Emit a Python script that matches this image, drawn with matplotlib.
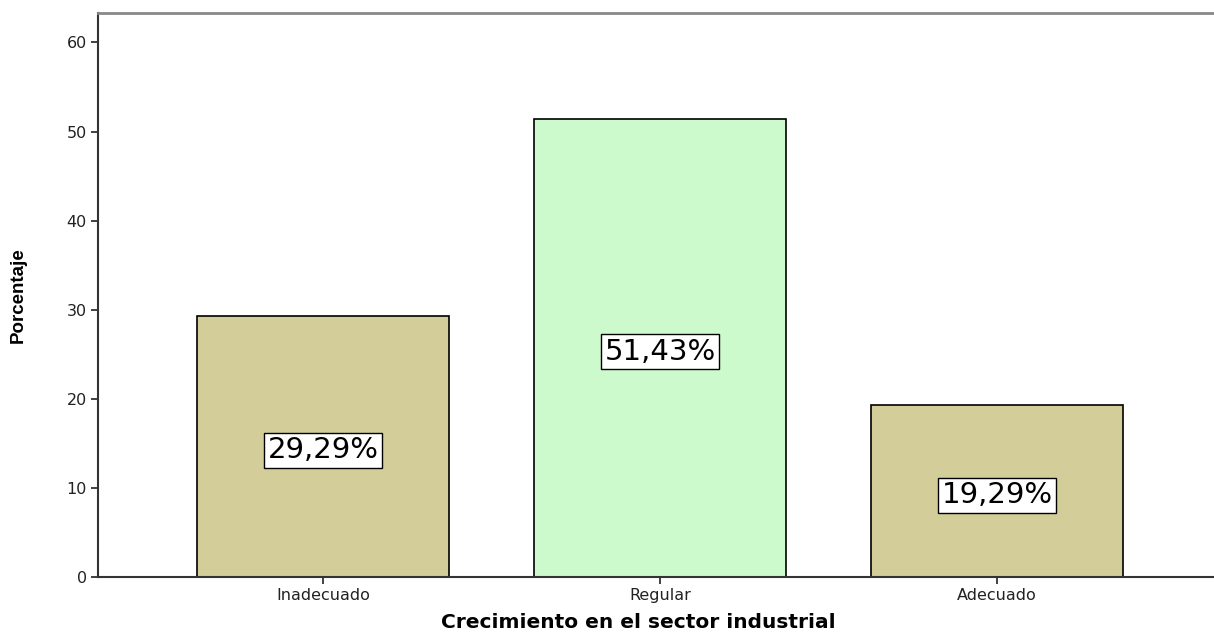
"""
Crecimiento en el sector industrial: porcentaje por nivel.
"""

import matplotlib
matplotlib.use("Agg")
import matplotlib.pyplot as plt

categorias = ["Inadecuado", "Regular", "Adecuado"]
porcentajes = [29.29, 51.43, 19.29]
etiquetas = ["29,29%", "51,43%", "19,29%"]
colores = ["#d3cd99", "#ccfacc", "#d3cd99"]

# alturas donde va cada etiqueta dentro de la barra
altura_etiqueta = [14.2, 25.3, 9.2]

fig = plt.figure(figsize=(12.14, 6.35), dpi=100)
ax = fig.add_axes([98 / 1214, 58 / 635, 1 - 98 / 1214, (577 - 13) / 635])

x = range(len(categorias))
ax.bar(x, porcentajes, width=0.75, color=colores, edgecolor="black", linewidth=1.2, zorder=2)

for xi, y, txt in zip(x, altura_etiqueta, etiquetas):
    ax.text(xi, y, txt, ha="center", va="center", fontsize=21, family="DejaVu Sans",
            bbox=dict(boxstyle="square,pad=0.12", facecolor="white", edgecolor="black", linewidth=1))

ax.set_xlim(-0.668, 2.644)
ax.set_ylim(0, 63.3)
ax.set_yticks(range(0, 61, 10))
ax.set_xticks(list(x))
ax.set_xticklabels(categorias)

ax.spines["right"].set_visible(False)
ax.spines["top"].set_color("#888888")
ax.spines["top"].set_linewidth(2)
for lado in ["left", "bottom"]:
    ax.spines[lado].set_color("#333333")
    ax.spines[lado].set_linewidth(1.5)

ax.tick_params(axis="both", direction="out", length=5, width=1.3, color="#333333",
               labelsize=11.5, labelcolor="#222222", pad=3)
for lbl in ax.get_xticklabels() + ax.get_yticklabels():
    lbl.set_family("DejaVu Sans")

ax.set_xlabel("Crecimiento en el sector industrial", fontsize=14.5, fontweight="bold",
              family="DejaVu Sans")
ax.xaxis.set_label_coords(0.484, -0.063)
ax.set_ylabel("Porcentaje", fontsize=13.5, fontweight="bold",
              family=["Liberation Sans Narrow", "Liberation Sans"])
ax.yaxis.set_label_coords(-0.064, 0.5)

plt.savefig("out.png", dpi=100)
